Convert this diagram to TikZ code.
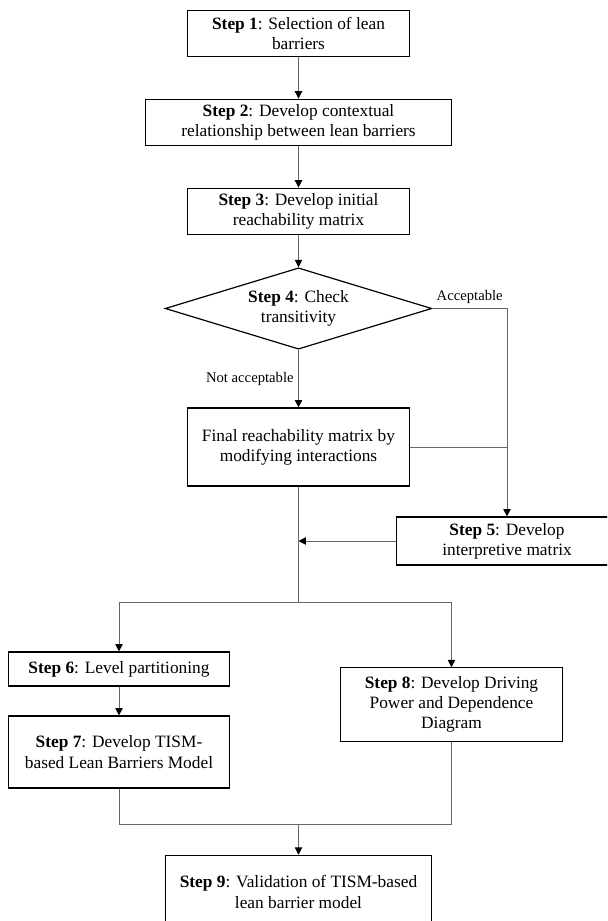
\documentclass[tikz,border=0pt]{standalone}
\usepackage{fontspec}
\setmainfont{Liberation Serif}
\usetikzlibrary{shapes.geometric,arrows.meta}
\newlength{\stepwidth}
\setlength{\stepwidth}{166pt}

\begin{document}
\begin{tikzpicture}[x=0.75pt,y=-0.75pt,
    stepbox/.style={draw,line width=0.9pt,align=center,inner sep=2pt,minimum width=\stepwidth,font=\fontsize{13}{15.2}\selectfont},
    flow/.style={draw=black!60,line width=0.7pt},
    arrow/.style={flow,-{Triangle[length=5.5pt,width=5.5pt,color=black]}},
    note/.style={font=\fontsize{11}{13}\selectfont}]
    \useasboundingbox (0,0) rectangle (607,921);
    \clip (0,0) rectangle (607,921);

    \node[stepbox,minimum height=35pt] (Step1) at (298.5,33.5) {\textbf{Step 1}: Selection of lean\\barriers};
    \node[stepbox,minimum width=229pt,minimum height=35pt] (Step2) at (298.5,122.5) {\textbf{Step 2}: Develop contextual\\relationship between lean barriers};
    \node[stepbox,minimum height=35pt] (Step3) at (298.5,211.5) {\textbf{Step 3}: Develop initial\\reachability matrix};
    \node[stepbox,diamond,aspect=3.3,inner sep=0pt,minimum width=200pt,minimum height=61pt] (Step4) at (298.5,308.5) {\textbf{Step 4}: Check\\transitivity};
    \node[stepbox,minimum height=58.5pt] (Final) at (298.5,447) {Final reachability matrix by\\modifying interactions};
    \node[stepbox,minimum height=36pt] (Step5) at (507,541) {\textbf{Step 5}: Develop\\interpretive matrix};
    \node[stepbox,minimum height=25.5pt] (Step6) at (119,669) {\textbf{Step 6}: Level partitioning};
    \node[stepbox,minimum height=54pt] (Step7) at (119,752) {\textbf{Step 7}: Develop TISM-\\based Lean Barriers Model};
    \node[stepbox,minimum height=55pt] (Step8) at (451.5,704.5) {\textbf{Step 8}: Develop Driving\\Power and Dependence\\Diagram};
    \node[stepbox,minimum width=199pt,minimum height=55pt] (Step9) at (298.5,892) {\textbf{Step 9}: Validation of TISM-based\\lean barrier model};

    \coordinate (AccTurn) at (507,308.5);
    \coordinate (Split) at (298.5,602);
    \coordinate (Merge) at (298.5,824);

    \draw[arrow] (Step1) -- (Step2);
    \draw[arrow] (Step2) -- (Step3);
    \draw[arrow] (Step3) -- (Step4);
    \draw[arrow] (Step4.south) -- node[note,left] {Not acceptable} (Final.north);
    \draw[arrow] (Step4.east) -- node[note,above] {Acceptable} (AccTurn) -- (Step5.north);
    \draw[flow] (Final.east) -- (Final.east -| AccTurn);
    \draw[flow] (Final.south) -- (Split);
    \draw[arrow] (Step5.west) -- (Step5.west -| Split);
    \draw[arrow] (Split) -| (Step6.north);
    \draw[arrow] (Split) -| (Step8.north);
    \draw[arrow] (Step6) -- (Step7);
    \draw[flow] (Step7.south) |- (Merge) -| (Step8.south);
    \draw[arrow] (Merge) -- (Step9.north);
\end{tikzpicture}
\end{document}
